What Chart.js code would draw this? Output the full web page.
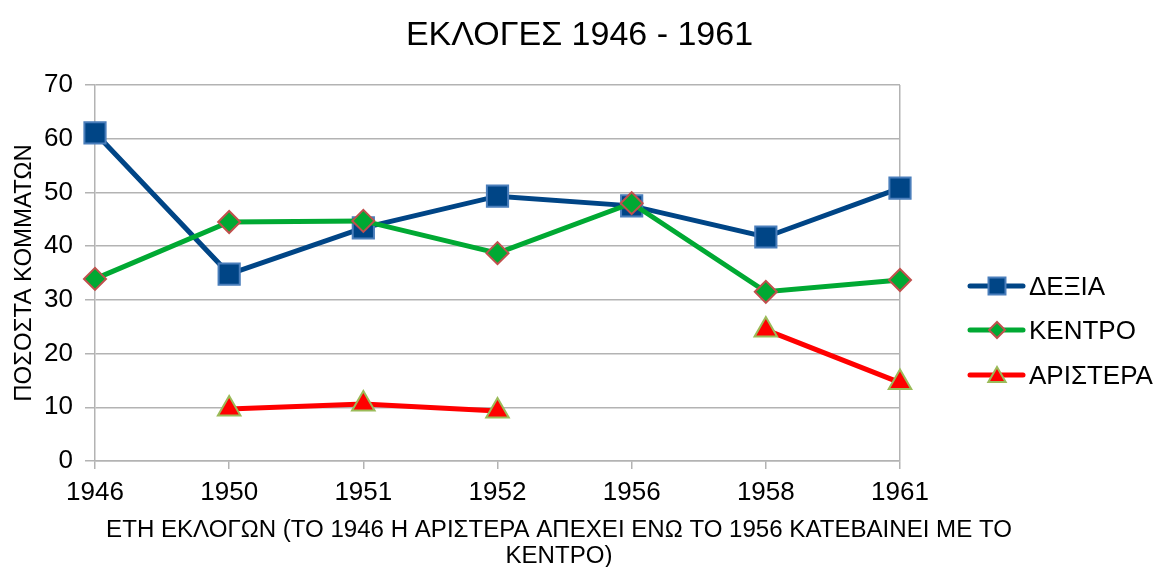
<!DOCTYPE html>
<html>
<head>
<meta charset="utf-8">
<script src="https://cdn.jsdelivr.net/npm/chart.js@4/dist/chart.umd.min.js"></script>
<style>
html,body{margin:0;padding:0;background:#fff;}
#wrap{width:1159px;height:567px;}
</style>
</head>
<body>
<div id="wrap"><canvas id="c" width="1159" height="567"></canvas></div>
<script>
const years = ['1946','1950','1951','1952','1956','1958','1961'];
const dexia = [61.1, 34.8, 43.4, 49.3, 47.5, 41.7, 50.8];
const kentro = [33.9, 44.5, 44.7, 38.7, 48.0, 31.5, 33.7];
const aristera = [null, 9.7, 10.6, 9.3, null, 24.4, 14.6];
const yTicks = [0, 10, 20, 30, 40, 50, 60, 70];
const chartTitle = 'ΕΚΛΟΓΕΣ 1946 - 1961';
const xTitle = ['ΕΤΗ ΕΚΛΟΓΩΝ (ΤΟ 1946 Η ΑΡΙΣΤΕΡΑ ΑΠΕΧΕΙ ΕΝΩ ΤΟ 1956 ΚΑΤΕΒΑΙΝΕΙ ΜΕ ΤΟ', 'ΚΕΝΤΡΟ)'];

const FONT = "'Liberation Sans', Arial, sans-serif";
const GRID = '#b3b3b3';

const textPlugin = {
  id: 'texts',
  afterDraw(chart) {
    const ctx = chart.ctx;
    ctx.save();
    ctx.fillStyle = '#000';
    ctx.textAlign = 'center';
    ctx.textBaseline = 'alphabetic';
    ctx.font = '34px ' + FONT;
    ctx.fillText(chartTitle, chart.width / 2, 45);
    ctx.font = '100px ' + FONT;
    const w = ctx.measureText(xTitle[0]).width;
    const size = Math.min(26, Math.max(18, 100 * 906 / w));
    ctx.font = size.toFixed(2) + 'px ' + FONT;
    ctx.fillText(xTitle[0], 559, 537);
    ctx.fillText(xTitle[1], 559, 563);
    ctx.restore();
  }
};

const legendPlugin = {
  id: 'sideLegend',
  afterDraw(chart) {
    const ctx = chart.ctx;
    const ys = [286, 330, 375];
    const legendR = [12, 8, 10];
    const x0 = 970, x1 = 1023, xm = 997;
    chart.data.datasets.forEach((ds, i) => {
      const y = ys[i];
      ctx.save();
      ctx.strokeStyle = ds.borderColor;
      ctx.lineWidth = ds.borderWidth;
      ctx.lineCap = 'round';
      ctx.beginPath(); ctx.moveTo(x0, y); ctx.lineTo(x1, y); ctx.stroke();
      ctx.fillStyle = ds.pointBackgroundColor;
      ctx.strokeStyle = ds.pointBorderColor;
      ctx.lineWidth = ds.pointBorderWidth;
      Chart.helpers.drawPoint(ctx, {pointStyle: ds.pointStyle, rotation: 0, radius: legendR[i], borderWidth: ds.pointBorderWidth}, xm, y + (ds.pointStyle === 'triangle' ? 2 : 0));
      ctx.fillStyle = '#000';
      ctx.font = '26px ' + FONT;
      ctx.textBaseline = 'alphabetic';
      ctx.textAlign = 'left';
      ctx.fillText(ds.label, 1029, y + 9);
      ctx.restore();
    });
  }
};

new Chart(document.getElementById('c'), {
  type: 'line',
  data: {
    labels: years,
    datasets: [
      {label: 'ΔΕΞΙΑ', data: dexia, order: 2, borderColor: '#004586', borderWidth: 5,
       pointStyle: 'rect', pointRadius: 15, pointHoverRadius: 15, pointBackgroundColor: '#004586',
       pointBorderColor: '#4a7ebb', pointBorderWidth: 2, clip: false, tension: 0},
      {label: 'ΚΕΝΤΡΟ', data: kentro, order: 1, borderColor: '#00a933', borderWidth: 5,
       pointStyle: 'rectRot', pointRadius: 11, pointHoverRadius: 11, pointBackgroundColor: '#00a933',
       pointBorderColor: '#c0504d', pointBorderWidth: 2, clip: false, tension: 0},
      {label: 'ΑΡΙΣΤΕΡΑ', data: aristera, order: 0, borderColor: '#ff0000', borderWidth: 5,
       pointStyle: 'triangle', pointRadius: 13, pointHoverRadius: 13, pointBackgroundColor: '#ff0000',
       pointBorderColor: '#9bbb59', pointBorderWidth: 2, clip: false, tension: 0, spanGaps: false}
    ]
  },
  options: {
    responsive: false,
    animation: false,
    devicePixelRatio: 1,
    layout: {padding: {left: 0, right: 259, top: 85, bottom: 0}},
    plugins: {
      legend: {display: false},
      tooltip: {enabled: false},
      title: {display: false}
    },
    scales: {
      x: {
        type: 'category',
        offset: false,
        afterFit: (s) => { s.height = 106; },
        grid: {
          drawOnChartArea: true,
          color: (c) => (c.index === years.length - 1) ? GRID : 'rgba(0,0,0,0)',
          tickColor: GRID, tickLength: 8, lineWidth: 1.5
        },
        border: {display: true, color: GRID, width: 1.5},
        ticks: {color: '#000', font: {family: FONT, size: 26, lineHeight: 1.2}, padding: 8, maxRotation: 0, autoSkip: false},
        title: {display: false}
      },
      y: {
        min: 0, max: 70,
        afterBuildTicks: (s) => { s.ticks = yTicks.map(v => ({value: v})); },
        afterFit: (s) => { s.width = 95; },
        grid: {color: GRID, tickColor: GRID, tickLength: 10, lineWidth: 1.5},
        border: {display: true, color: GRID, width: 1.5},
        ticks: {color: '#000', font: {family: FONT, size: 26}, padding: 12},
        title: {display: true, text: 'ΠΟΣΟΣΤΑ ΚΟΜΜΑΤΩΝ', color: '#000',
          font: {family: FONT, size: 24, lineHeight: 1.2}, padding: {top: 10, bottom: 0}}
      }
    }
  },
  plugins: [legendPlugin, textPlugin]
});
</script>
</body>
</html>
